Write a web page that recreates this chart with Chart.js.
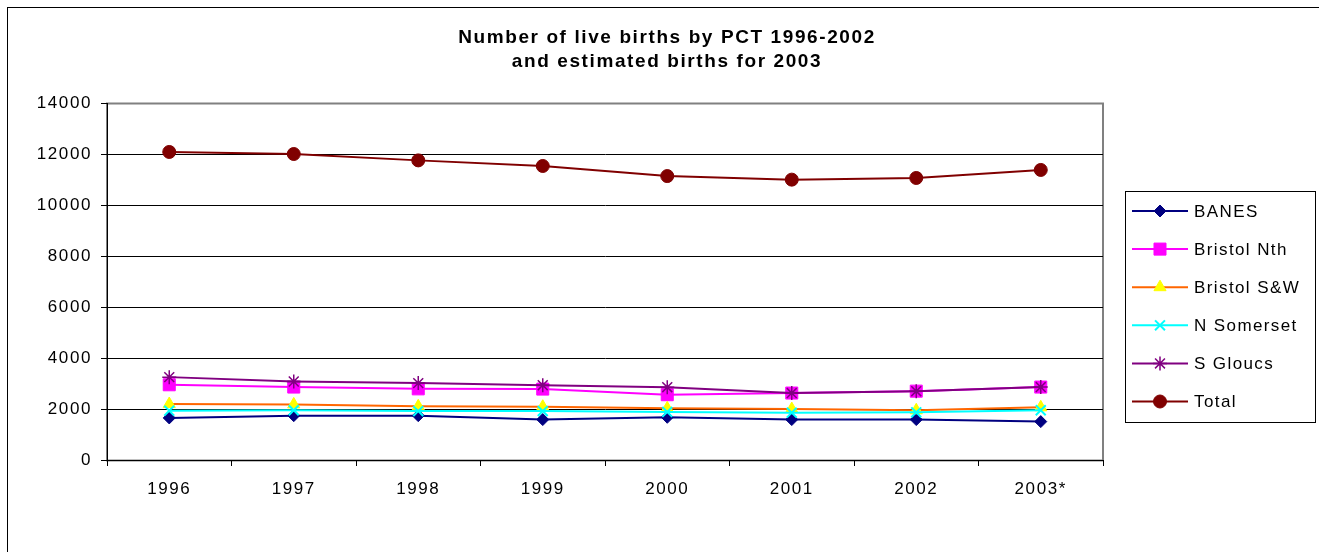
<!DOCTYPE html>
<html>
<head>
<meta charset="utf-8">
<script src="https://cdn.jsdelivr.net/npm/chart.js@4.4.1/dist/chart.umd.min.js"></script>
<style>
  html, body { margin:0; padding:0; background:#fff; overflow:hidden; }
  canvas { display:block; }
</style>
</head>
<body>
<canvas id="birthsChart" width="1319" height="552"></canvas>
<script>
// ── data ──
const years      = ['1996','1997','1998','1999','2000','2001','2002','2003*'];
const banes      = [1650, 1740, 1740, 1585, 1675, 1585, 1585, 1505];
const bristolNth = [2950, 2860, 2790, 2780, 2560, 2625, 2700, 2860];
const bristolSW  = [2195, 2180, 2105, 2090, 2025, 2000, 1950, 2065];
const nSomerset  = [1935, 1950, 1920, 1920, 1885, 1855, 1870, 1950];
const sGloucs    = [3250, 3080, 3015, 2935, 2855, 2625, 2700, 2860];
const total      = [12080, 12000, 11750, 11530, 11135, 10995, 11060, 11375];

const titleLines = ['Number of live births by PCT 1996-2002', 'and estimated births for 2003'];
const FONT = "'Liberation Sans', Arial, sans-serif";

// markers are drawn in their fill colour, lines in their own colour
function series(label, data, line, fill, style, r, bw) {
  return {
    label, data,
    borderColor: line, backgroundColor: fill,
    pointBackgroundColor: fill, pointBorderColor: fill,
    pointStyle: style, pointRadius: r, pointHoverRadius: r, pointBorderWidth: bw,
    borderWidth: 2, tension: 0, fill: false
  };
}

const datasets = [
  series('BANES',       banes,      '#000080', '#000080', 'rectRot',  6,   1),
  series('Bristol Nth', bristolNth, '#FF00FF', '#FF00FF', 'rect',     8.5, 1),
  series('Bristol S&W', bristolSW,  '#FF6600', '#FFFF00', 'triangle', 7,   1),
  series('N Somerset',  nSomerset,  '#00FFFF', '#00FFFF', 'crossRot', 7,   2),
  series('S Gloucs',    sGloucs,    '#800080', '#800080', 'star',     7,   1.5),
  series('Total',       total,      '#800000', '#800000', 'circle',   6.5, 1)
];
// later series sit on top, as in the original
datasets.forEach((d, i) => d.order = datasets.length - i);

// frame, plot border, title, legend
const decor = {
  id: 'decor',
  beforeDraw(chart) {
    const c = chart.ctx, a = chart.chartArea;
    c.save();
    c.fillStyle = '#fff';
    c.fillRect(0, 0, chart.width, chart.height);
    c.strokeStyle = '#000'; c.lineWidth = 1;
    c.strokeRect(7.5, 7.5, 1400, 700);
    c.strokeStyle = '#808080'; c.lineWidth = 2;
    c.strokeRect(a.left, a.top + 0.5, a.right - a.left, a.bottom - a.top);
    c.restore();
    c.letterSpacing = '1.6px';   // the original's text is drawn wide
  },
  afterDraw(chart) {
    const c = chart.ctx;
    c.save();
    c.fillStyle = '#000';
    c.textAlign = 'center'; c.textBaseline = 'alphabetic';
    c.font = 'bold 19px ' + FONT;
    c.letterSpacing = '1.6px';
    c.fillText(titleLines[0], 667, 43);
    c.fillText(titleLines[1], 667, 67);

    // legend
    const bx = 1125.5, by = 191.5, bw = 190, bh = 231;
    c.strokeStyle = '#000'; c.lineWidth = 1;
    c.strokeRect(bx, by, bw, bh);
    c.font = '17px ' + FONT;
    c.letterSpacing = '1.4px';
    c.textAlign = 'left'; c.textBaseline = 'middle';
    chart.data.datasets.forEach((d, i) => {
      const y = 211 + i * 38.1;
      c.strokeStyle = d.borderColor; c.lineWidth = 2;
      c.beginPath(); c.moveTo(1132, y); c.lineTo(1188, y); c.stroke();
      c.fillStyle = d.pointBackgroundColor;
      c.strokeStyle = d.pointBorderColor;
      c.lineWidth = d.pointBorderWidth;
      Chart.helpers.drawPoint(c, { pointStyle: d.pointStyle, radius: d.pointRadius, rotation: 0, borderWidth: d.pointBorderWidth }, 1160, y);
      c.fillStyle = '#000';
      c.fillText(d.label, 1194, y + 1);
    });
    c.restore();
  }
};

new Chart(document.getElementById('birthsChart'), {
  type: 'line',
  data: { labels: years, datasets },
  options: {
    responsive: false,
    animation: false,
    layout: { padding: { left: 0, top: 103, right: 216, bottom: 0 } },
    plugins: { legend: { display: false }, title: { display: false }, tooltip: { enabled: false } },
    scales: {
      x: {
        offset: true,
        grid: { offset: true, drawOnChartArea: false, drawTicks: true, tickLength: 6, color: '#000' },
        border: { color: '#000', width: 1 },
        ticks: { color: '#000', font: { family: FONT, size: 17 }, padding: 13, maxRotation: 0, autoSkip: false },
        afterFit: s => { s.height = 92; }
      },
      y: {
        min: 0, max: 14000,
        grid: {
          color: c => c.tick && c.tick.value === 14000 ? 'rgba(0,0,0,0)' : '#000',
          tickColor: '#000', tickLength: 6, lineWidth: 1
        },
        border: { color: '#000', width: 1 },
        ticks: { stepSize: 2000, color: '#000', font: { family: FONT, size: 17 }, padding: 9,
          callback: v => String(v) },
        afterFit: s => { s.width = 107; }
      }
    }
  },
  plugins: [decor]
});
</script>
</body>
</html>
